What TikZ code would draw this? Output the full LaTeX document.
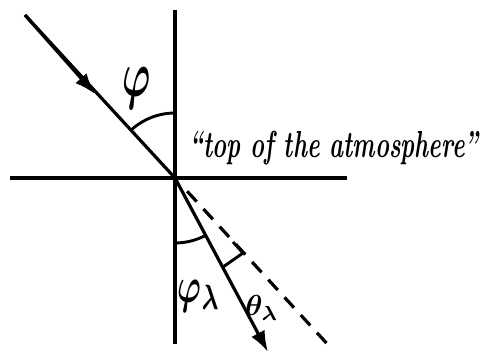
\documentclass[tikz,border=0pt]{standalone}
\usepackage{fontspec}
\usepackage{bm}
\usetikzlibrary{calc,arrows.meta}
\def\centerarc[#1](#2)(#3:#4:#5){\draw[#1] ($(#2)+({#5*cos(#3)},{#5*sin(#3)})$) arc (#3:#4:#5);}

\begin{document}
\begin{tikzpicture}[x=1pt,y=-1pt,line width=3.2pt]
	%%%%% START %%%%%
	\def\rad{65}
	\def\aphi{227.4}
	\def\alam{61.9}
	\tikzset{
		ray tip/.style={-{Latex[length=21pt,width=15pt]}},
		greek/.style={inner sep=0pt}
	}
	\useasboundingbox (0,0) rectangle (481,353);
	
	\coordinate (O) at (175,178);
	\coordinate (vtop) at (175,10);
	\coordinate (vbot) at (175,344);
	\coordinate (hleft) at (10,178);
	\coordinate (hright) at (347,178);
	\coordinate (src) at (25,15);
	\coordinate (mid) at (95,94);
	\coordinate (tip) at (268,352);
	\coordinate (dend) at (331,348);
	
	\draw (vtop) -- (vbot);
	\draw (hleft) -- (hright);
	
	\draw (src) -- (O);
	\draw[ray tip] (src) -- (mid);
	\draw[dash pattern=on 14pt off 10pt] ($(O)!18pt!(dend)$) -- (dend);
	\draw[ray tip] (O) -- (tip);
	
	\centerarc[line width=2.9pt](O)(\aphi:270:\rad);
	\centerarc[line width=2.9pt](O)(\alam:90:\rad);
	\draw[line width=2.9pt] (223,267) -- (243,253) -- (233,242);
	
	\node[greek,xscale=3.8,yscale=6.5] (phi) at (137,88) {$\bm{\varphi}$};
	\node[greek,xscale=3.2,yscale=5] (philam) at (199,296) {$\bm{\varphi_\lambda}$};
	\node[greek,scale=2.9] (thetalam) at (262,308) {$\bm{\theta_\lambda}$};
	\node[anchor=north west,inner sep=0pt,font=\fontsize{26}{32}\selectfont\bfseries\itshape] (toa) at (188,129) {\resizebox*{289pt}{34pt}{“top of the atmosphere”}};
	%%%%% END %%%%%
\end{tikzpicture}
\end{document}
